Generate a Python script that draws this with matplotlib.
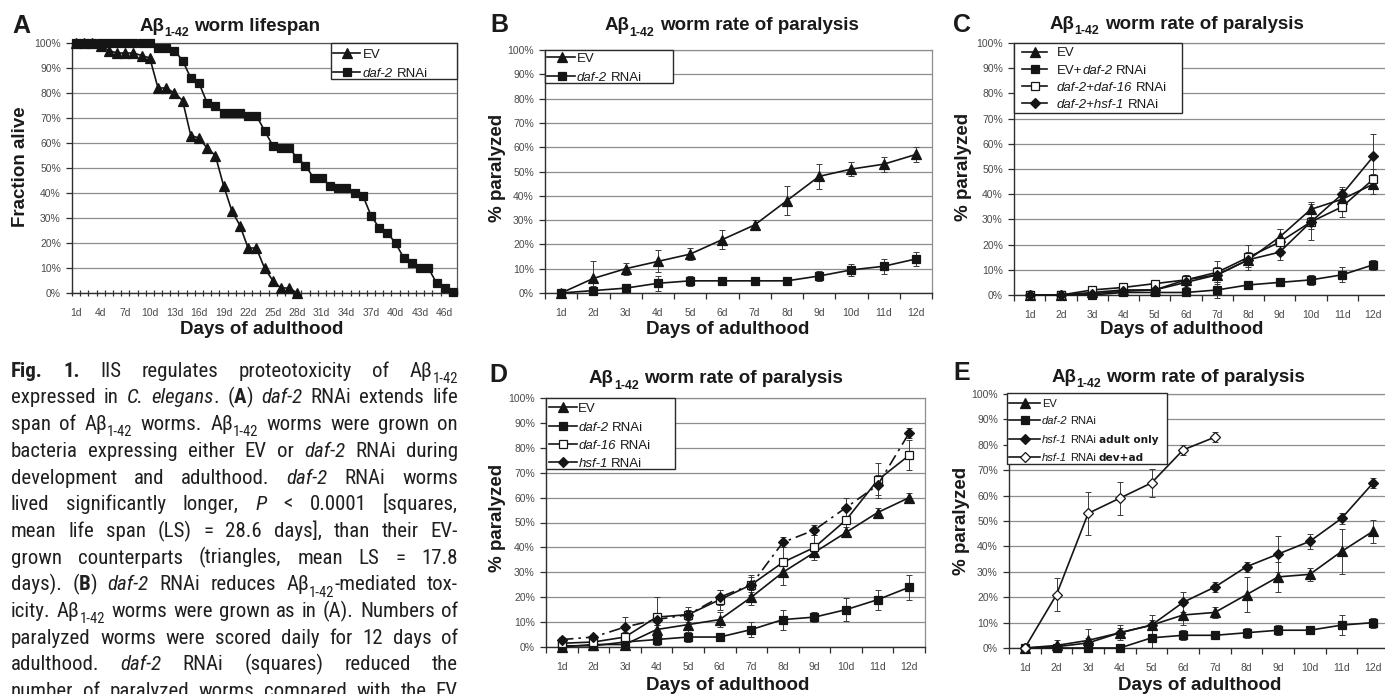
import matplotlib
matplotlib.use('Agg')
import matplotlib.pyplot as plt
from matplotlib import font_manager
from matplotlib.lines import Line2D
from matplotlib.patches import Rectangle

W, H, DPI = 1385, 694, 100
plt.rcParams['font.family'] = ['Liberation Sans', 'DejaVu Sans']

names = {f.name for f in font_manager.fontManager.ttflist}
CAP_STRETCH = 'normal'
CAP_FAMILY = None
for cand in ['Liberation Sans Narrow', 'Roboto Condensed', 'DejaVu Sans Condensed',
             'Open Sans Condensed', 'Noto Sans Condensed', 'Noto Sans SemiCondensed']:
    if cand in names:
        CAP_FAMILY = [cand, 'DejaVu Sans']
        break
if CAP_FAMILY is None:
    cond = [f for f in font_manager.fontManager.ttflist
            if f.name in ('DejaVu Sans', 'Noto Sans', 'Open Sans') and 'condensed' in str(f.stretch)]
    if cond:
        CAP_FAMILY = [cond[0].name, 'DejaVu Sans']
        CAP_STRETCH = 'condensed'
    else:
        CAP_FAMILY = ['Roboto', 'Liberation Sans', 'DejaVu Sans']

# ---------------- data ----------------
# Panel A: lifespan (fraction alive, %)
a_ticklabels = ['1d', '4d', '7d', '10d', '13d', '16d', '19d', '22d', '25d', '28d',
                '31d', '34d', '37d', '40d', '43d', '46d']
a_ev = [100, 100, 100, 99, 97, 96, 96, 96, 95, 94, 82, 82, 80, 77, 63, 62, 58, 55,
        43, 33, 27, 18, 18, 10, 5, 2, 2, 0]
a_daf2 = [100, 100, 100, 100, 100, 100, 100, 100, 100, 100, 98, 98, 97, 93, 86, 84,
          76, 75, 72, 72, 72, 71, 71, 65, 59, 58, 58, 54, 51, 46, 46, 43, 42, 42, 40,
          39, 31, 26, 24, 20, 14, 12, 10, 10, 4, 2, 0.5]

days12 = ['1d', '2d', '3d', '4d', '5d', '6d', '7d', '8d', '9d', '10d', '11d', '12d']

# Panel B
b_ev = [0, 6, 10, 13, 16, 22, 28, 38, 48, 51, 53, 57]
b_ev_err = [0, 7, 2.5, 4.5, 2.5, 4, 2, 6, 5, 3, 3, 3]
b_daf2 = [0, 1, 2, 4, 5, 5, 5, 5, 7, 9.5, 11, 14]
b_daf2_err = [0, 2, 1.5, 3, 2, 1, 1, 1, 2, 2.5, 3, 3]

# Panel C
c_ev = [0, 0, 1, 2, 2, 6, 8, 14, 23, 34, 38, 44]
c_ev_err = [0, 0, 1, 1, 1, 2, 3, 3, 3, 3, 4, 4]
c_daf2 = [0, 0, 0, 1, 1, 1, 2, 4, 5, 6, 8, 12]
c_daf2_err = [0, 0, 0, 1, 1, 1, 3, 1, 1, 2, 3, 2]
c_daf16 = [0, 0, 2, 3, 4.5, 6, 9, 15, 21, 29, 35, 46]
c_daf16_err = [0, 0, 1, 1, 1.5, 2, 4.5, 5, 5, 7, 4, 4]
c_hsf1 = [0, 0, 0.5, 1.5, 2, 5, 8, 14, 17, 29, 40, 55]
c_hsf1_err = [0, 0, 0.5, 1, 1, 2, 2, 2, 3, 3, 3, 9]

# Panel D
d_ev = [0, 1, 1, 7, 9, 11, 20, 30, 38, 46, 54, 60]
d_ev_err = [0, 1, 1, 2, 3, 3, 3, 5, 2, 2, 2, 2]
d_daf2 = [0.5, 0.5, 2, 3, 4, 4, 7, 11, 12, 15, 19, 24]
d_daf2_err = [0.5, 0.5, 1, 2, 2, 1, 3, 4, 2, 4.5, 4, 5]
d_daf16 = [1.5, 2, 4, 12, 13, 19, 25, 34, 40, 51, 67, 77]
d_daf16_err = [1, 1, 2, 8, 3, 4, 3, 6, 5, 5, 7, 6]
d_hsf1 = [3, 4, 8, 11, 13, 20, 25, 42, 47, 56, 65, 86]
d_hsf1_err = [1, 1, 4, 2, 2, 3, 4, 2, 2, 4, 4, 2]

# Panel E
e_ev = [0, 1, 3, 6, 9, 13, 14, 21, 28, 29, 38, 46]
e_ev_err = [0, 2, 4.5, 3, 4, 4, 2, 7, 6, 2.5, 9, 4.5]
e_daf2 = [0, 0, 0, 0, 4, 5, 5, 6, 7, 7, 9, 10]
e_daf2_err = [0, 0, 0, 0, 4, 2, 1, 2, 2, 1, 4, 2]
e_hsf1_adult = [0, 0.5, 2, 6, 9, 18, 24, 32, 37, 42, 51, 65]
e_hsf1_adult_err = [0, 1, 2, 2, 2, 4, 2, 2, 7, 3, 2, 2]
e_hsf1_dev = [0, 21, 53, 59, 65, 78, 83]
e_hsf1_dev_err = [0, 6.5, 8.5, 6.5, 5.5, 2, 2]

CAPTION_LINES = [
    "b:Fig. b:1. IIS regulates proteotoxicity of Aβ|s:1-42",
    "expressed in i:C. i:elegans|. (|b:A|) i:daf-2 RNAi extends life",
    "span of Aβ|s:1-42 worms. Aβ|s:1-42 worms were grown on",
    "bacteria expressing either EV or i:daf-2 RNAi during",
    "development and adulthood. i:daf-2 RNAi worms",
    "lived significantly longer, i:P < 0.0001 [squares,",
    "mean life span (LS) = 28.6 days], than their EV-",
    "grown counterparts (triangles, mean LS = 17.8",
    "days). (|b:B|) i:daf-2 RNAi reduces Aβ|s:1-42|-mediated tox-",
    "icity. Aβ|s:1-42 worms were grown as in (A). Numbers of",
    "paralyzed worms were scored daily for 12 days of",
    "adulthood. i:daf-2 RNAi (squares) reduced the",
    "number of paralyzed worms compared with the EV",
]

# ---------------- helpers ----------------
fig = plt.figure(figsize=(W / DPI, H / DPI), dpi=DPI)
fig.patch.set_facecolor('white')
R = fig.canvas.get_renderer()

def fx(x):
    return x / W

def fy(y):
    return 1 - y / H

INK = '#1a1a1a'
GRID = '#8e8e8e'
AXC = '#2e2e2e'
TICKC = '#4a4a4a'

STY = {
    'n': ('normal', 'normal', 1.0, 0.0, None),
    'b': ('bold', 'normal', 1.0, 0.0, None),
    'i': ('normal', 'italic', 1.0, 0.0, None),
    's': ('normal', 'normal', 0.70, 0.30, None),
    'sb': ('bold', 'normal', 0.66, 0.28, None),
    'k': ('bold', 'normal', 0.95, 0.0, ['DejaVu Sans']),
}

_sp_cache = {}
def space_w(size, wt, st, fam, stretch='normal'):
    key = (size, wt, st, tuple(fam), stretch)
    if key not in _sp_cache:
        a = fig.text(0, 0, 'n n', fontsize=size, fontweight=wt, fontstyle=st, family=fam,
                     fontstretch=stretch)
        b = fig.text(0, 0, 'nn', fontsize=size, fontweight=wt, fontstyle=st, family=fam,
                     fontstretch=stretch)
        _sp_cache[key] = a.get_window_extent(R).width - b.get_window_extent(R).width
        a.remove(); b.remove()
    return _sp_cache[key]

def draw_runs(runs, x, y, size, family, color=INK, ha='left', stretch='normal'):
    objs = []
    cx = x
    for text, kind in runs:
        wt, st, sc, dy, fam = STY[kind]
        f = fam or family
        s = size * sc
        lead = len(text) - len(text.lstrip(' '))
        trail = len(text) - len(text.rstrip(' '))
        core = text.strip(' ')
        if lead:
            cx += lead * space_w(s, wt, st, f, stretch)
        if core:
            t = fig.text(fx(cx), fy(y + dy * size * DPI / 72), core, fontsize=s,
                         fontweight=wt, fontstyle=st, family=f, color=color,
                         fontstretch=stretch, ha='left', va='baseline')
            cx += t.get_window_extent(R).width
            objs.append(t)
        if trail:
            cx += trail * space_w(s, wt, st, f, stretch)
    total = cx - x
    if ha == 'center':
        shift(objs, -total / 2)
    return objs, total

def shift(objs, dx):
    for t in objs:
        px, py = t.get_position()
        t.set_position((px + dx / W, py))

def parse_word(word):
    runs = []
    for seg in word.split('|'):
        if seg[:2] in ('b:', 'i:', 's:'):
            runs.append((seg[2:], seg[0]))
        else:
            runs.append((seg, 'n'))
    return runs

def make_ax(l, t, r, b):
    return fig.add_axes([fx(l), fy(b), (r - l) / W, (b - t) / H])

def style_ax(ax, xlim, positions, labels, minor, top_col=GRID):
    ax.set_xlim(*xlim)
    ax.set_ylim(0, 100)
    ax.set_yticks(range(0, 101, 10))
    ax.set_yticklabels([f'{v}%' for v in range(0, 101, 10)])
    ax.yaxis.grid(True, color=GRID, lw=0.9)
    ax.set_axisbelow(True)
    for s in ('top', 'right'):
        ax.spines[s].set_color(top_col)
        ax.spines[s].set_linewidth(0.9)
    for s in ('left', 'bottom'):
        ax.spines[s].set_color(AXC)
        ax.spines[s].set_linewidth(1.0)
    ax.set_xticks(positions)
    ax.set_xticklabels(labels)
    ax.set_xticks(minor, minor=True)
    ax.tick_params(axis='y', direction='out', length=4, width=0.9, color=AXC,
                   labelsize=7.5, labelcolor=TICKC, pad=4)
    ax.tick_params(axis='x', which='major', length=0, labelsize=7.5,
                   labelcolor=TICKC, pad=11)
    ax.tick_params(axis='x', which='minor', direction='out', length=4, width=0.9,
                   color=AXC)
    ax.set_facecolor('white')

LC = '#151515'
def series(ax, y, err, marker, mfc, ms, ls='-', x=None):
    xs = x if x is not None else list(range(1, len(y) + 1))
    if err is not None:
        ax.errorbar(xs, y, yerr=err, fmt='none', ecolor='#3a3a3a', elinewidth=0.7,
                    capsize=2.2, capthick=0.7, zorder=2, clip_on=False)
    ax.plot(xs, y, color=LC, lw=1.2, ls=ls, marker=marker, ms=ms, mfc=mfc, mec=LC,
            mew=0.9, zorder=3, clip_on=False)

def legend(box, rows, hx0, hx1, hm, tx, size):
    x0, y0, x1, y1 = box
    fig.add_artist(Rectangle((fx(x0), fy(y1)), (x1 - x0) / W, (y1 - y0) / H,
                             transform=fig.transFigure, facecolor='white',
                             edgecolor='#2a2a2a', lw=1.0, zorder=5))
    for ypx, (marker, mfc, ms, ls), runs in rows:
        fig.add_artist(Line2D([fx(hx0), fx(hx1)], [fy(ypx)] * 2, transform=fig.transFigure,
                              color=LC, lw=1.2, zorder=6))
        fig.add_artist(Line2D([fx(hm)], [fy(ypx)], transform=fig.transFigure, marker=marker,
                              ms=ms, mfc=mfc, mec=LC, mew=0.9, color=LC, zorder=7))
        objs, _ = draw_runs(runs, tx, ypx + 0.36 * size * DPI / 72, size,
                            ['Liberation Sans', 'DejaVu Sans'])
        for o in objs:
            o.set_zorder(8)

def title(cx, base, letter_x, letter_base, text_runs, letter):
    draw_runs(text_runs, cx, base, 13.5, ['Liberation Sans', 'DejaVu Sans'], ha='center')
    fig.text(fx(letter_x), fy(letter_base), letter, fontsize=18, fontweight='bold',
             color=INK, ha='left', va='baseline')

def tit_runs(rest):
    return [('Aβ', 'b'), ('1-42', 'sb'), (' ' + rest, 'b')]

def labels(xl_x, xl_base, yl_x, yl_y, ytext):
    fig.text(fx(xl_x), fy(xl_base), 'Days of adulthood', fontsize=13.5, fontweight='bold',
             color=INK, ha='center', va='baseline')
    fig.text(fx(yl_x), fy(yl_y), ytext, fontsize=13.5, fontweight='bold', color=INK,
             ha='center', va='center', rotation=90)

TRI = ('^', LC, 7, '-')
SQ = ('s', LC, 6, '-')
OSQ = ('s', 'white', 6, '-')
DIA = ('D', LC, 5.5, '-')
ODIA = ('D', 'white', 5.5, '-')
cat12 = list(range(1, 13))
minor12 = [k + 0.5 for k in range(0, 13)]

# ---------------- Panel A ----------------
axA = make_ax(72, 43, 457, 293)
a_pos = list(range(1, 47, 3))
style_ax(axA, (0.51, 47.35), a_pos, a_ticklabels, [k + 0.5 for k in range(0, 48)],
         top_col='#555555')
axA.tick_params(axis='x', which='minor', direction='inout', length=5)
series(axA, a_ev, None, '^', LC, 6.5, x=list(range(1, len(a_ev) + 1)))
series(axA, a_daf2, None, 's', LC, 5.5, x=list(range(1, len(a_daf2) + 1)))
title(230, 30.7, 12, 33, tit_runs('worm lifespan'), 'A')
labels(262, 334, 21, 167, 'Fraction alive')
legend((330.7, 42.7, 457, 79.3),
       [(53, TRI, [('EV', 'n')]), (72, SQ, [('daf-2', 'i'), (' RNAi', 'n')])],
       333, 360, 347, 362.7, 9.5)

# ---------------- Panel B ----------------
axB = make_ax(545, 50, 932, 293)
style_ax(axB, (0.5, 12.5), cat12, days12, minor12)
series(axB, b_ev, b_ev_err, *TRI[:3])
series(axB, b_daf2, b_daf2_err, *SQ[:3])
title(731.7, 30.5, 490, 31.7, tit_runs('worm rate of paralysis'), 'B')
labels(728, 334, 498, 168, '% paralyzed')
legend((545, 50, 672.7, 82.7),
       [(57.3, TRI, [('EV', 'n')]), (76, SQ, [('daf-2', 'i'), (' RNAi', 'n')])],
       547.3, 575, 561.7, 576.7, 9.5)

# ---------------- Panel C ----------------
axC = make_ax(1014, 43, 1389, 295)
style_ax(axC, (0.5, 12.5), cat12, days12, minor12)
series(axC, c_daf2, c_daf2_err, *SQ[:3])
series(axC, c_ev, c_ev_err, *TRI[:3])
series(axC, c_daf16, c_daf16_err, *OSQ[:3])
series(axC, c_hsf1, c_hsf1_err, *DIA[:3])
title(1176.7, 28.7, 953, 31.7, tit_runs('worm rate of paralysis'), 'C')
labels(1182, 334, 964, 167, '% paralyzed')
legend((1014.3, 42.7, 1181.7, 113.3),
       [(51.7, TRI, [('EV', 'n')]),
        (69.3, SQ, [('EV+', 'n'), ('daf-2', 'i'), (' RNAi', 'n')]),
        (86, OSQ, [('daf-2+daf-16', 'i'), (' RNAi', 'n')]),
        (103.3, DIA, [('daf-2+hsf-1', 'i'), (' RNAi', 'n')])],
       1021.7, 1046.7, 1035, 1056.7, 9.5)

# ---------------- Panel D ----------------
axD = make_ax(546, 398, 925, 647)
style_ax(axD, (0.5, 12.5), cat12, days12, minor12)
series(axD, d_daf2, d_daf2_err, *SQ[:3])
series(axD, d_ev, d_ev_err, *TRI[:3])
series(axD, d_daf16, d_daf16_err, *OSQ[:3])
series(axD, d_hsf1, d_hsf1_err, 'D', LC, 5.5, ls=(0, (7, 3, 1.5, 3)))
title(715.8, 383.3, 489, 381.7, tit_runs('worm rate of paralysis'), 'D')
labels(728, 690, 498, 518, '% paralyzed')
legend((546, 397.7, 675, 469.3),
       [(407.3, TRI, [('EV', 'n')]),
        (426, SQ, [('daf-2', 'i'), (' RNAi', 'n')]),
        (444, OSQ, [('daf-16', 'i'), (' RNAi', 'n')]),
        (462.3, DIA, [('hsf-1', 'i'), (' RNAi', 'n')])],
       549.3, 576.7, 563.3, 578.3, 9.5)

# ---------------- Panel E ----------------
axE = make_ax(1009, 394, 1389, 648)
style_ax(axE, (0.5, 12.5), cat12, days12, minor12)
series(axE, e_daf2, e_daf2_err, *SQ[:3])
series(axE, e_ev, e_ev_err, *TRI[:3])
series(axE, e_hsf1_adult, e_hsf1_adult_err, *DIA[:3])
series(axE, e_hsf1_dev, e_hsf1_dev_err, *ODIA[:3], x=list(range(1, len(e_hsf1_dev) + 1)))
title(1178.3, 381.7, 953, 380, tit_runs('worm rate of paralysis'), 'E')
labels(1200, 690, 962, 521, '% paralyzed')
legend((1007.3, 393.3, 1166.7, 464),
       [(403.3, TRI, [('EV', 'n')]),
        (420, SQ, [('daf-2', 'i'), (' RNAi', 'n')]),
        (439, DIA, [('hsf-1', 'i'), (' RNAi ', 'n'), ('adult only', 'k')]),
        (456.7, ODIA, [('hsf-1', 'i'), (' RNAi ', 'n'), ('dev+ad', 'k')])],
       1009.3, 1040, 1025, 1041.7, 8)

# ---------------- Caption (justified) ----------------
CAP_L, CAP_R = 11, 458

def natural_width(size):
    worst = 0
    for line in CAPTION_LINES:
        words = line.split(' ')
        tot = 0
        for w in words:
            objs, wdt = draw_runs(parse_word(w), 0, 0, size, CAP_FAMILY, stretch=CAP_STRETCH)
            for o in objs:
                o.remove()
            tot += wdt
        tot += (len(words) - 1) * space_w(size, 'normal', 'normal', CAP_FAMILY, CAP_STRETCH)
        worst = max(worst, tot)
    return worst

CAP_SIZE = 11.0
for cand in [15.5, 15.0, 14.5, 14.0, 13.5, 13.0, 12.5, 12.0, 11.5]:
    if natural_width(cand) <= (CAP_R - CAP_L) - 2:
        CAP_SIZE = cand
        break

for i, line in enumerate(CAPTION_LINES):
    base = 376.7 + i * 26.7
    words = line.split(' ')
    drawn = [draw_runs(parse_word(w), 0, base, CAP_SIZE, CAP_FAMILY, color='#202020',
                       stretch=CAP_STRETCH)
             for w in words]
    total = sum(d[1] for d in drawn)
    gap = (CAP_R - CAP_L - total) / max(len(words) - 1, 1)
    x = CAP_L
    for objs, wdt in drawn:
        shift(objs, x)
        x += wdt + gap

fig.savefig('out.png', dpi=DPI, facecolor='white')
